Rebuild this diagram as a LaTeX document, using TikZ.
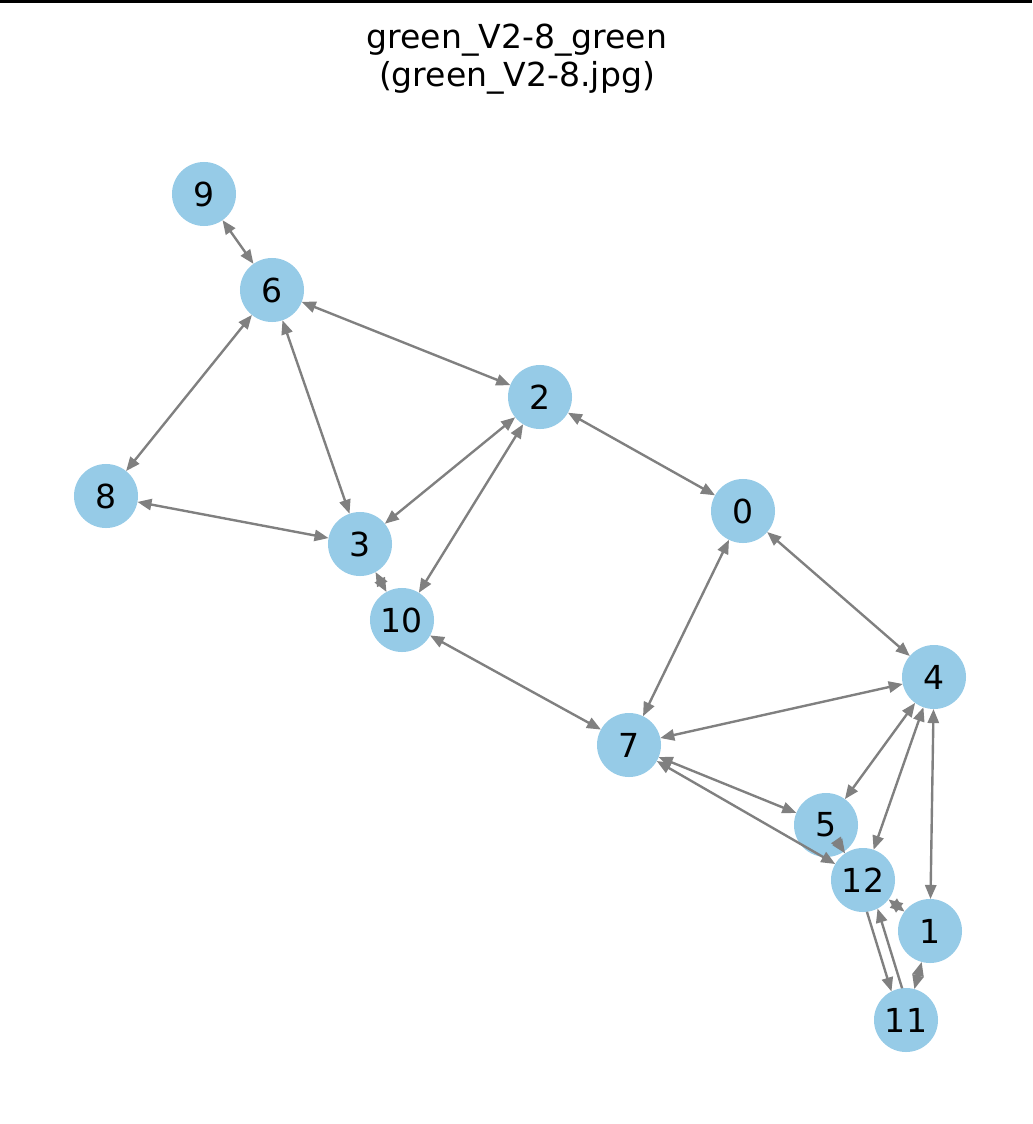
\documentclass[tikz,border=0pt]{standalone}
\usepackage{fontspec}
\setmainfont{DejaVu Sans}
\usepackage{tikz}
\usetikzlibrary{arrows.meta}
\definecolor{nodeblue}{HTML}{96CBE7}
\definecolor{edgegray}{HTML}{808080}

\begin{document}
\begin{tikzpicture}[
  x=0.025cm, y=-0.025cm,
  vertex/.style={circle, fill=nodeblue, minimum size=1.6cm, inner sep=0pt,
                 outer sep=0pt, font=\fontsize{23.5}{27}\selectfont},
  arrow/.style={{Triangle[length=10pt,width=8pt]}-{Triangle[length=10pt,width=8pt]},
                line width=1.7pt, color=edgegray},
  onearrow/.style={-{Triangle[length=10pt,width=8pt]},
                line width=1.7pt, color=edgegray},
]
\useasboundingbox (0,0) rectangle (1032,1124);
\fill[black] (0,0) rectangle (1032,3);

% Title
\node[align=center, font=\fontsize{23.5}{27}\selectfont] (title) at (517,59)
  {green\_V2-8\_green\\(green\_V2-8.jpg)};

% Vertices
\node[vertex] (n9)  at (204,194)  {9};
\node[vertex] (n6)  at (272,290)  {6};
\node[vertex] (n2)  at (540,397)  {2};
\node[vertex] (n8)  at (106,496)  {8};
\node[vertex] (n3)  at (360,544)  {3};
\node[vertex] (n0)  at (743,511)  {0};
\node[vertex] (n10) at (402,620)  {10};
\node[vertex] (n4)  at (934,677)  {4};
\node[vertex] (n7)  at (629,745)  {7};
\node[vertex] (n5)  at (826,825)  {5};
\node[vertex] (n12) at (863,880)  {12};
\node[vertex] (n1)  at (930,931)  {1};
\node[vertex] (n11) at (906,1020) {11};

% Edges
\foreach \a/\b in {n9/n6, n6/n2, n6/n8, n6/n3, n2/n3, n2/n10, n2/n0, n8/n3,
                   n3/n10, n10/n7, n0/n7, n0/n4, n4/n7, n4/n5, n4/n12, n4/n1,
                   n7/n5, n7/n12, n5/n12, n12/n1, n1/n11}
  \draw[arrow] (\a) -- (\b);

% 12 and 11, one line each way
\draw[onearrow] (n12.-83) -- (n11.117);
\draw[onearrow] (n11.97) -- (n12.-63);
\end{tikzpicture}
\end{document}
